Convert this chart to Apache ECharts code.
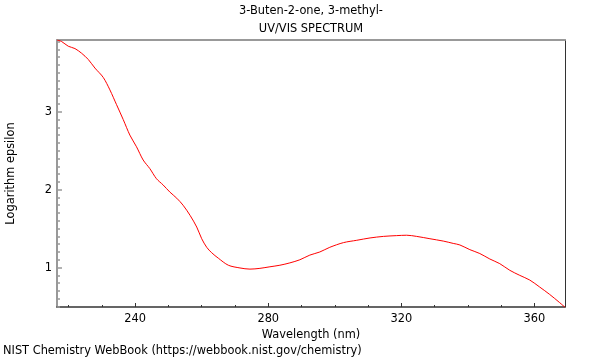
<!DOCTYPE html>
<html>
<head>
<meta charset="utf-8">
<script src="https://cdn.jsdelivr.net/npm/echarts@6/dist/echarts.min.js"></script>
<style>html,body{margin:0;padding:0;background:#fff}#c{width:600px;height:360px}</style>
</head>
<body>
<div id="c"></div>
<script>
var wavelength = [216.5,217.9,219.9,221.9,223.9,225.9,227.9,230.4,232.4,234.4,236.4,238.4,240.4,242.4,244.4,246.4,248.4,250.4,252.5,254.4,256.5,258.5,260.0,261.5,263.0,265.0,268.0,271.5,274.5,277.5,280.5,283.5,286.5,289.5,292.5,295.5,298.5,302.6,306.6,310.6,314.6,318.6,321.6,324.6,328.6,332.6,335.6,337.6,340.6,343.6,346.6,349.6,352.6,355.6,358.6,361.6,364.6,367.6,369.2];
var logEpsilon = [3.92,3.90,3.84,3.81,3.75,3.67,3.56,3.44,3.28,3.09,2.90,2.70,2.55,2.38,2.27,2.14,2.06,1.97,1.89,1.80,1.67,1.52,1.37,1.26,1.19,1.12,1.03,0.995,0.98,0.99,1.01,1.03,1.06,1.10,1.16,1.20,1.26,1.32,1.35,1.38,1.40,1.41,1.415,1.40,1.37,1.34,1.31,1.29,1.23,1.18,1.11,1.05,0.965,0.90,0.84,0.75,0.655,0.55,0.49];
var xMajorTicks = [240,280,320,360];
var xMinorTicks = [220,230,250,260,270,290,300,310,330,340,350];
var yMajorTicks = [1,2,3];
var yMinorTicks = [0.5,0.6,0.7,0.8,0.9,1.1,1.2,1.3,1.4,1.5,1.6,1.7,1.8,1.9,2.1,2.2,2.3,2.4,2.5,2.6,2.7,2.8,2.9,3.1,3.2,3.3,3.4,3.5,3.6,3.7,3.8,3.9];
var titleLines = ['3-Buten-2-one, 3-methyl-','UV/VIS SPECTRUM'];
var xName = 'Wavelength (nm)';
var yName = 'Logarithm epsilon';
var credit = 'NIST Chemistry WebBook (https://webbook.nist.gov/chemistry)';

var xMin = wavelength[0], xMax = wavelength[wavelength.length-1];
var yMin = 0.494, yMax = 3.92;
var font = 'DejaVu Sans';
var fs = 11.4;
var dark = '#333', gray = '#999';

var points = wavelength.map(function(w,i){return [w, logEpsilon[i]];});

var chart = echarts.init(document.getElementById('c'), null, {renderer:'canvas'});
chart.setOption({
  animation:false,
  backgroundColor:'#fff',
  textStyle:{fontFamily:font},
  title:[
    {text:titleLines[0], left:311, top:6, padding:0, textAlign:'center', textStyle:{fontSize:fs, fontWeight:'normal', color:'#000', fontFamily:font}},
    {text:titleLines[1], left:311, top:24, padding:0, textAlign:'center', textStyle:{fontSize:fs, fontWeight:'normal', color:'#000', fontFamily:font}},
    {text:credit, left:3, top:346, padding:0, textStyle:{fontSize:fs, fontWeight:'normal', color:'#000', fontFamily:font}}
  ],
  grid:{left:57, right:35, top:40, bottom:53, containLabel:false, outerBoundsMode:'none'},
  xAxis:[
    {type:'value', position:'bottom', min:xMin, max:xMax,
     axisLine:{show:true, onZero:false, lineStyle:{color:dark, width:1.5}},
     axisTick:{show:true, inside:true, length:4, customValues:xMajorTicks, lineStyle:{color:dark}},
     axisLabel:{show:true, customValues:xMajorTicks, margin:7, fontSize:fs, color:'#000', fontFamily:font},
     splitLine:{show:false},
     name:xName, nameLocation:'middle', nameGap:21, nameTextStyle:{fontSize:fs, color:'#000', fontFamily:font}},
    {type:'value', position:'bottom', min:xMin, max:xMax,
     axisLine:{show:false, onZero:false},
     axisTick:{show:true, inside:true, length:2, customValues:xMinorTicks, lineStyle:{color:dark}},
     axisLabel:{show:false}, splitLine:{show:false}},
    {type:'value', position:'top', min:xMin, max:xMax,
     axisLine:{show:true, onZero:false, lineStyle:{color:gray, width:2}},
     axisTick:{show:false}, axisLabel:{show:false}, splitLine:{show:false}}
  ],
  yAxis:[
    {type:'value', position:'left', min:yMin, max:yMax,
     axisLine:{show:true, onZero:false, lineStyle:{color:gray, width:2}},
     axisTick:{show:true, inside:true, length:5, customValues:yMajorTicks, lineStyle:{color:gray, width:1.5}},
     axisLabel:{show:true, customValues:yMajorTicks, margin:5, fontSize:fs, color:'#000', fontFamily:font},
     splitLine:{show:false},
     name:yName, nameLocation:'middle', nameGap:40, nameRotate:90, nameTextStyle:{fontSize:fs, color:'#000', fontFamily:font}},
    {type:'value', position:'left', min:yMin, max:yMax,
     axisLine:{show:false, onZero:false},
     axisTick:{show:true, inside:true, length:3, customValues:yMinorTicks, lineStyle:{color:gray, width:1.5}},
     axisLabel:{show:false}, splitLine:{show:false}},
    {type:'value', position:'right', min:yMin, max:yMax,
     axisLine:{show:true, onZero:false, lineStyle:{color:dark, width:1}},
     axisTick:{show:false}, axisLabel:{show:false}, splitLine:{show:false}}
  ],
  series:[{
    type:'line', xAxisIndex:0, yAxisIndex:0, data:points,
    showSymbol:false, symbol:'none', smooth:0.3,
    lineStyle:{color:'#ff0000', width:1}
  }]
});
</script>
</body>
</html>
